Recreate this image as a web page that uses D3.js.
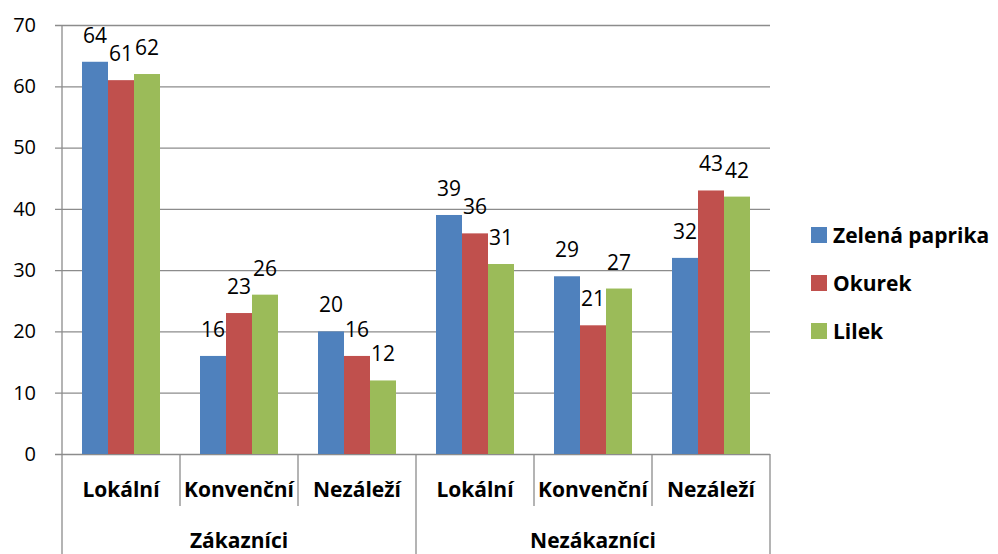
<!DOCTYPE html>
<html>
<head>
<meta charset="utf-8">
<script src="https://cdn.jsdelivr.net/npm/d3@7"></script>
<style>
  html, body { margin: 0; padding: 0; background: #fff; }
  svg { display: block; font-family: "Open Sans", sans-serif; }
</style>
</head>
<body>
<svg id="chart" width="998" height="554"></svg>
<script>
// Survey results: groups × categories × vegetables
const groups = ["Zákazníci", "Nezákazníci"];
const categories = ["Lokální", "Konvenční", "Nezáleží"];
const seriesNames = ["Zelená paprika", "Okurek", "Lilek"];
const seriesColors = ["#4F81BD", "#C0504D", "#9BBB59"];

// values per series, ordered group-by-group then category
const zelenaPaprika = [64, 16, 20, 39, 29, 32];
const okurek        = [61, 23, 16, 36, 21, 43];
const lilek         = [62, 26, 12, 31, 27, 42];
const seriesValues = [zelenaPaprika, okurek, lilek];

const yTicks = [0, 10, 20, 30, 40, 50, 60, 70];

(function draw() {
  const svg = d3.select("#chart");
  const plotLeft = 62, plotRight = 770, plotTop = 25, plotBottom = 454;
  const gridColor = "#8C8C8C";
  const boldSize = 21;

  const y = d3.scaleLinear().domain([0, 70]).range([plotBottom, plotTop]);

  // nested band scales: group -> category -> series
  const x0 = d3.scaleBand().domain(groups).range([plotLeft, plotRight]);
  const x1 = d3.scaleBand().domain(categories).range([0, x0.bandwidth()]);
  const x2 = d3.scaleBand().domain(seriesNames).range([0, x1.bandwidth()])
    .paddingInner(0).paddingOuter(20 / 26);

  // gridlines + y tick labels
  const yAxis = d3.axisLeft(y).tickValues(yTicks)
    .tickSizeInner(-(plotRight - 55)).tickSizeOuter(0).tickPadding(19);
  const gy = svg.append("g").attr("transform", "translate(55,0)").call(yAxis);
  gy.select(".domain").remove();
  gy.selectAll(".tick line").attr("stroke", gridColor).attr("stroke-width", 1.3);
  gy.selectAll(".tick text").attr("font-family", "'Open Sans', sans-serif")
    .attr("font-size", 20).attr("fill", "#000");

  // vertical axis line
  svg.append("line").attr("x1", plotLeft).attr("x2", plotLeft)
    .attr("y1", y(70)).attr("y2", y(0))
    .attr("stroke", gridColor).attr("stroke-width", 1.3);

  // rows of data: one entry per (group, category)
  const rows = [];
  groups.forEach((g, gi) => categories.forEach((c, ci) => {
    rows.push({ group: g, cat: c, idx: gi * categories.length + ci });
  }));

  const bars = svg.append("g");
  rows.forEach(r => {
    const gx = x0(r.group) + x1(r.cat);
    seriesNames.forEach((s, si) => {
      const v = seriesValues[si][r.idx];
      bars.append("rect")
        .attr("x", gx + x2(s)).attr("width", x2.bandwidth())
        .attr("y", y(v)).attr("height", y(0) - y(v))
        .attr("fill", seriesColors[si]);
      bars.append("text")
        .attr("x", gx + x2(s) + x2.bandwidth() / 2)
        .attr("y", y(v) - 19)
        .attr("text-anchor", "middle")
        .attr("font-size", 21).attr("fill", "#000")
        .text(v);
    });
  });

  // category separators below the axis
  const sep = svg.append("g").attr("stroke", gridColor).attr("stroke-width", 1.3);
  groups.forEach(g => {
    categories.forEach((c, ci) => {
      const xs = x0(g) + x1(c);
      sep.append("line").attr("x1", xs).attr("x2", xs)
        .attr("y1", plotBottom).attr("y2", ci === 0 ? 554 : 506);
    });
  });
  sep.append("line").attr("x1", plotRight).attr("x2", plotRight)
    .attr("y1", plotBottom).attr("y2", 554);

  // category labels
  rows.forEach(r => {
    svg.append("text")
      .attr("x", x0(r.group) + x1(r.cat) + x1.bandwidth() / 2)
      .attr("y", 497).attr("text-anchor", "middle")
      .attr("font-size", boldSize).attr("font-weight", "bold").attr("fill", "#000")
      .text(r.cat);
  });
  // group labels
  groups.forEach(g => {
    svg.append("text")
      .attr("x", x0(g) + x0.bandwidth() / 2)
      .attr("y", 548).attr("text-anchor", "middle")
      .attr("font-size", boldSize).attr("font-weight", "bold").attr("fill", "#000")
      .text(g);
  });

  // legend
  const legend = svg.append("g").attr("transform", "translate(811,227)");
  seriesNames.forEach((s, si) => {
    const row = legend.append("g").attr("transform", `translate(0,${si * 48})`);
    row.append("rect").attr("width", 16).attr("height", 16).attr("fill", seriesColors[si]);
    row.append("text").attr("x", 22).attr("y", 15.5)
      .attr("font-size", boldSize).attr("font-weight", "bold").attr("fill", "#000")
      .text(s);
  });
})();
</script>
</body>
</html>
